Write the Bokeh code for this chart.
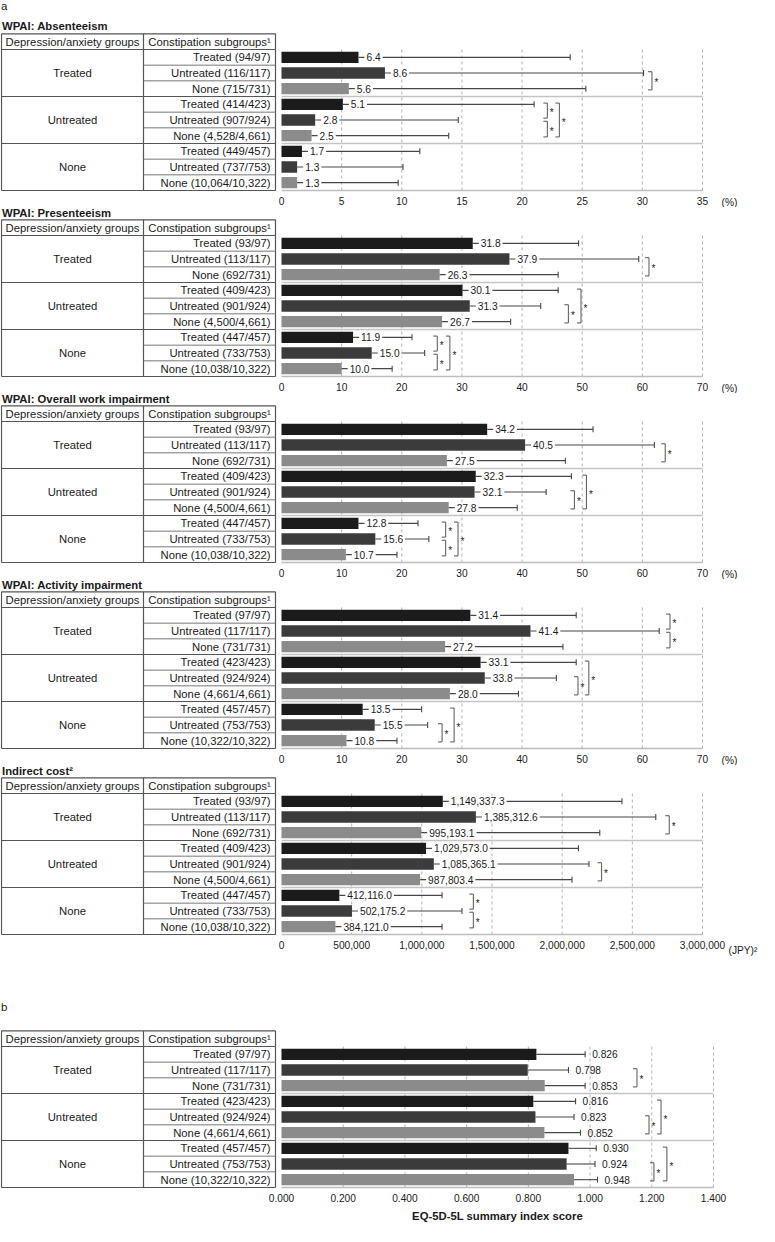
import math
from bokeh.plotting import figure
from bokeh.models import Range1d, FixedTicker, NumeralTickFormatter, ColumnDataSource
from bokeh.layouts import column
from bokeh.core.properties import value
from bokeh.embed import file_html
from bokeh.resources import INLINE

# ---------------- data ----------------
GROUPS = ["Treated", "Untreated", "None"]
SUBGROUPS = ["Treated", "Untreated", "None"]
HEADER_1 = "Depression/anxiety groups"
HEADER_2 = "Constipation subgroups\u00b9"

ABS_N = ["94/97", "116/117", "715/731", "414/423", "907/924", "4,528/4,661", "449/457", "737/753", "10,064/10,322"]
ABS_MEAN = [6.4, 8.6, 5.6, 5.1, 2.8, 2.5, 1.7, 1.3, 1.3]
ABS_UPPER = [24.0, 30.1, 25.3, 21.0, 14.7, 13.9, 11.5, 10.1, 9.7]
ABS_TICKS = [0, 5, 10, 15, 20, 25, 30, 35]
ABS_SIG = [(1, 2, 30.8), (3, 4, 22.1), (4, 5, 22.1), (3, 5, 23.1)]

PRE_N = ["93/97", "113/117", "692/731", "409/423", "901/924", "4,500/4,661", "447/457", "733/753", "10,038/10,322"]
PRE_MEAN = [31.8, 37.9, 26.3, 30.1, 31.3, 26.7, 11.9, 15.0, 10.0]
PRE_UPPER = [49.4, 59.4, 46.0, 46.0, 43.1, 38.1, 21.7, 23.8, 18.4]
PCT_TICKS = [0, 10, 20, 30, 40, 50, 60, 70]
PRE_SIG = [(1, 2, 61.1), (4, 5, 47.7), (3, 5, 49.8), (6, 7, 25.9), (7, 8, 25.9), (6, 8, 28.0)]

OWI_N = PRE_N
OWI_MEAN = [34.2, 40.5, 27.5, 32.3, 32.1, 27.8, 12.8, 15.6, 10.7]
OWI_UPPER = [51.8, 62.0, 47.2, 48.2, 44.0, 39.2, 22.7, 24.5, 19.2]
OWI_SIG = [(1, 2, 63.8), (4, 5, 48.7), (3, 5, 50.7), (6, 7, 27.3), (7, 8, 27.3), (6, 8, 29.35)]

ACT_N = ["97/97", "117/117", "731/731", "423/423", "924/924", "4,661/4,661", "457/457", "753/753", "10,322/10,322"]
ACT_MEAN = [31.4, 41.4, 27.2, 33.1, 33.8, 28.0, 13.5, 15.5, 10.8]
ACT_UPPER = [49.0, 62.8, 46.8, 49.0, 45.7, 39.4, 23.3, 24.3, 19.2]
ACT_SIG = [(0, 1, 64.6), (1, 2, 64.6), (4, 5, 49.3), (3, 5, 51.1), (7, 8, 26.7), (6, 8, 28.7)]

COST_N = PRE_N
COST_MEAN = [1149337.3, 1385312.6, 995193.1, 1029573.0, 1085365.1, 987803.4, 412116.0, 502175.2, 384121.0]
COST_UPPER = [2426000, 2667000, 2268000, 2116000, 2191000, 2070000, 1144000, 1286000, 1144000]
COST_TICKS = [0, 500000, 1000000, 1500000, 2000000, 2500000, 3000000]
COST_SIG = [(1, 2, 2763000), (4, 5, 2281000), (6, 7, 1367000), (7, 8, 1367000)]

EQ_N = ACT_N
EQ_MEAN = [0.826, 0.798, 0.853, 0.816, 0.823, 0.852, 0.930, 0.924, 0.948]
EQ_UPPER = [0.984, 0.930, 0.984, 0.953, 0.948, 0.969, 1.020, 1.016, 1.024]
EQ_TICKS = [0, 0.2, 0.4, 0.6, 0.8, 1.0, 1.2, 1.4]
EQ_SIG = [(1, 2, 1.152), (4, 5, 1.191), (3, 5, 1.230), (7, 8, 1.207), (6, 8, 1.249)]

# ---------------- layout / style ----------------
W = 759
X0 = 281
ROW = 141 / 9
TBL_L, COL_DIV, TBL_R = 1, 143, 275
FONT = "Liberation Sans"
BAR_COLORS = ["#1b1b1b", "#3b3b3b", "#8b8b8b"]
LINE = "#474747"
TXT = "#1a1a1a"


def bracket_ends(sig):
    out = []
    for (a, b, x) in sig:
        top, bot = a + 0.42, b + 0.58
        for (a2, b2, x2) in sig:
            if (a2, b2) != (a, b) and abs(x2 - x) < 1e-9:
                if b2 == a:
                    top = a + 0.58
                if a2 == b:
                    bot = b + 0.38
        out.append((top, bot))
    return out


def panel(title, marker, marker_px, title_px, n, means, uppers, sig, ticks, tickfmt,
          valfmt, unit, unit_dx, unit_dy, cw, H, R, inline=True, axis_title=None, axis_title_px=0):
    xmax = ticks[-1]
    s = cw / xmax
    ytop = 9 - R / ROW
    ybot = 9 + (H - R) / ROW
    p = figure(frame_width=W, frame_height=H,
               x_range=Range1d(-X0 / s, (W - X0) / s), y_range=Range1d(ybot, ytop),
               min_border_left=0, min_border_right=0, min_border_top=0, min_border_bottom=0,
               output_backend="svg", toolbar_location=None, tools="", y_axis_location=None)
    p.extra_x_ranges = {"tbl": Range1d(0, W)}
    p.outline_line_color = None
    p.grid.visible = False
    p.background_fill_color = "white"
    p.border_fill_color = "white"

    # ---- titles ----
    if marker:
        p.text(x=[TBL_L - 0.5], y=[ytop + marker_px / ROW], text=[marker], x_range_name="tbl",
               text_align="left", text_baseline="middle", text_font=value(FONT),
               text_font_size="11.5px", text_color=TXT)
    if title:
        p.text(x=[TBL_L + 0.5], y=[ytop + title_px / ROW], text=[title], x_range_name="tbl",
               text_align="left", text_baseline="middle", text_font=value(FONT),
               text_font_size="11.3px", text_font_style="bold", text_color=TXT)

    # ---- table ----
    edges = [3 * g for g in range(4)]
    hy = [-1] + edges
    p.segment(x0=TBL_L, y0=hy, x1=TBL_R, y1=hy, x_range_name="tbl",
              line_color="#555555", line_width=1.2)
    vx = [TBL_L, COL_DIV, TBL_R]
    p.segment(x0=vx, y0=-1, x1=vx, y1=9, x_range_name="tbl", line_color="#555555", line_width=1.2)
    inner = [r for r in range(1, 9) if r % 3 != 0]
    p.segment(x0=COL_DIV, y0=inner, x1=TBL_R, y1=inner, x_range_name="tbl",
              line_color="#777777", line_width=1.0)
    p.text(x=[(TBL_L + COL_DIV) / 2, (COL_DIV + TBL_R) / 2], y=[-0.5, -0.5],
           text=[HEADER_1, HEADER_2], x_range_name="tbl", text_align="center",
           text_baseline="middle", text_font=value(FONT), text_font_size="11.3px", text_color=TXT)
    p.text(x=[(TBL_L + COL_DIV) / 2] * 3, y=[3 * g + 1.5 for g in range(3)], text=GROUPS,
           x_range_name="tbl", text_align="center", text_baseline="middle",
           text_font=value(FONT), text_font_size="11.3px", text_color=TXT)
    sub_lbl = [f"{SUBGROUPS[i % 3]} ({n[i]})" for i in range(9)]
    p.text(x=[TBL_R - 5] * 9, y=[i + 0.5 for i in range(9)], text=sub_lbl, x_range_name="tbl",
           text_align="right", text_baseline="middle", text_font=value(FONT),
           text_font_size="11.3px", text_color=TXT)

    # ---- chart ----
    p.segment(x0=ticks[1:], y0=0, x1=ticks[1:], y1=9, line_dash="3 3",
              line_color="#b3b3b3", line_width=1)
    src = ColumnDataSource(dict(
        y=[i + 0.5 for i in range(9)], mean=means, upper=uppers,
        color=[BAR_COLORS[i % 3] for i in range(9)],
        label=[valfmt.format(v) for v in means]))
    p.hbar(y="y", left=0, right="mean", height=0.72, fill_color="color", line_color=None, source=src)
    p.segment(x0="mean", y0="y", x1="upper", y1="y", line_color=LINE, line_width=1.1, source=src)
    p.scatter(x="upper", y="y", marker="dash", angle=math.pi / 2, size=6,
              line_color=LINE, line_width=1.1, source=src)
    if inline:
        p.text(x="mean", y="y", text="label", x_offset=6, text_align="left",
               text_baseline="middle", text_font=value(FONT), text_font_size="10.2px",
               text_color=TXT, background_fill_color="white", padding=2, source=src)
    else:
        p.text(x="upper", y="y", text="label", x_offset=7, text_align="left",
               text_baseline="middle", text_font=value(FONT), text_font_size="10.2px",
               text_color=TXT, source=src)
    seps = edges[1:-1]
    p.segment(x0=0, y0=seps, x1=xmax, y1=seps, line_color="#c4c4c4", line_width=1.3)

    # ---- significance brackets ----
    arm = 4 / s
    ends = bracket_ends(sig)
    xs, ys, sx, sy = [], [], [], []
    for (a, b, x), (t, bt) in zip(sig, ends):
        xs.append([x - arm, x, x, x - arm])
        ys.append([t, t, bt, bt])
        sx.append(x)
        sy.append((t + bt) / 2)
    p.multi_line(xs=xs, ys=ys, line_color="#555555", line_width=1)
    p.text(x=sx, y=sy, text=["*"] * len(sx), x_offset=2.5, y_offset=2, text_align="left",
           text_baseline="middle", text_font=value(FONT), text_font_size="10px", text_color=TXT)

    # ---- axis (fixed at the bottom of the rows) ----
    ax = p.xaxis[0]
    ax.fixed_location = 9
    ax.ticker = FixedTicker(ticks=ticks)
    ax.bounds = (0, xmax)
    ax.formatter = NumeralTickFormatter(format=tickfmt)
    ax.axis_line_color = "#bdbdbd"
    ax.axis_line_width = 1.3
    ax.major_tick_line_color = None
    ax.minor_tick_line_color = None
    ax.major_tick_out = 0
    ax.major_tick_in = 0
    ax.major_label_standoff = 6
    ax.major_label_text_font = FONT
    ax.major_label_text_font_size = "10.2px"
    ax.major_label_text_color = TXT
    if unit:
        p.text(x=[xmax], y=[9], text=[unit], x_offset=unit_dx, y_offset=unit_dy,
               text_align="left", text_baseline="middle", text_font=value(FONT),
               text_font_size="10.2px", text_color=TXT)
    if axis_title:
        p.text(x=[xmax / 2], y=[9 + axis_title_px / ROW], text=[axis_title],
               text_align="center", text_baseline="middle", text_font=value(FONT),
               text_font_size="11.3px", text_font_style="bold", text_color=TXT)
    return p


CW = 421
CW6 = 432
p1 = panel("WPAI: Absenteeism", "a", 5, 25, ABS_N, ABS_MEAN, ABS_UPPER, ABS_SIG, ABS_TICKS, "0",
           "{:.1f}", "(%)", 19, 12, CW, 207, 190)
p2 = panel("WPAI: Presenteeism", None, 0, 5.5, PRE_N, PRE_MEAN, PRE_UPPER, PRE_SIG, PCT_TICKS, "0",
           "{:.1f}", "(%)", 19, 12, CW, 186, 169)
p3 = panel("WPAI: Overall work impairment", None, 0, 5.5, OWI_N, OWI_MEAN, OWI_UPPER, OWI_SIG,
           PCT_TICKS, "0", "{:.1f}", "(%)", 19, 12, CW, 186, 169)
p4 = panel("WPAI: Activity impairment", None, 0, 5.5, ACT_N, ACT_MEAN, ACT_UPPER, ACT_SIG,
           PCT_TICKS, "0", "{:.1f}", "(%)", 19, 12, CW, 186, 169)
p5 = panel("Indirect cost\u00b2", None, 0, 5.5, COST_N, COST_MEAN, COST_UPPER, COST_SIG,
           COST_TICKS, "0,0", "{:,.1f}", "(JPY)\u00b2", 26, 16, CW, 196, 169)
p6 = panel(None, "b", 45, 0, EQ_N, EQ_MEAN, EQ_UPPER, EQ_SIG, EQ_TICKS, "0.000", "{:.3f}",
           None, 0, 0, CW6, 262, 226, inline=False,
           axis_title="EQ-5D-5L summary index score", axis_title_px=28)

layout = column(p1, p2, p3, p4, p5, p6)
open("out.html", "w").write(file_html(layout, INLINE))
